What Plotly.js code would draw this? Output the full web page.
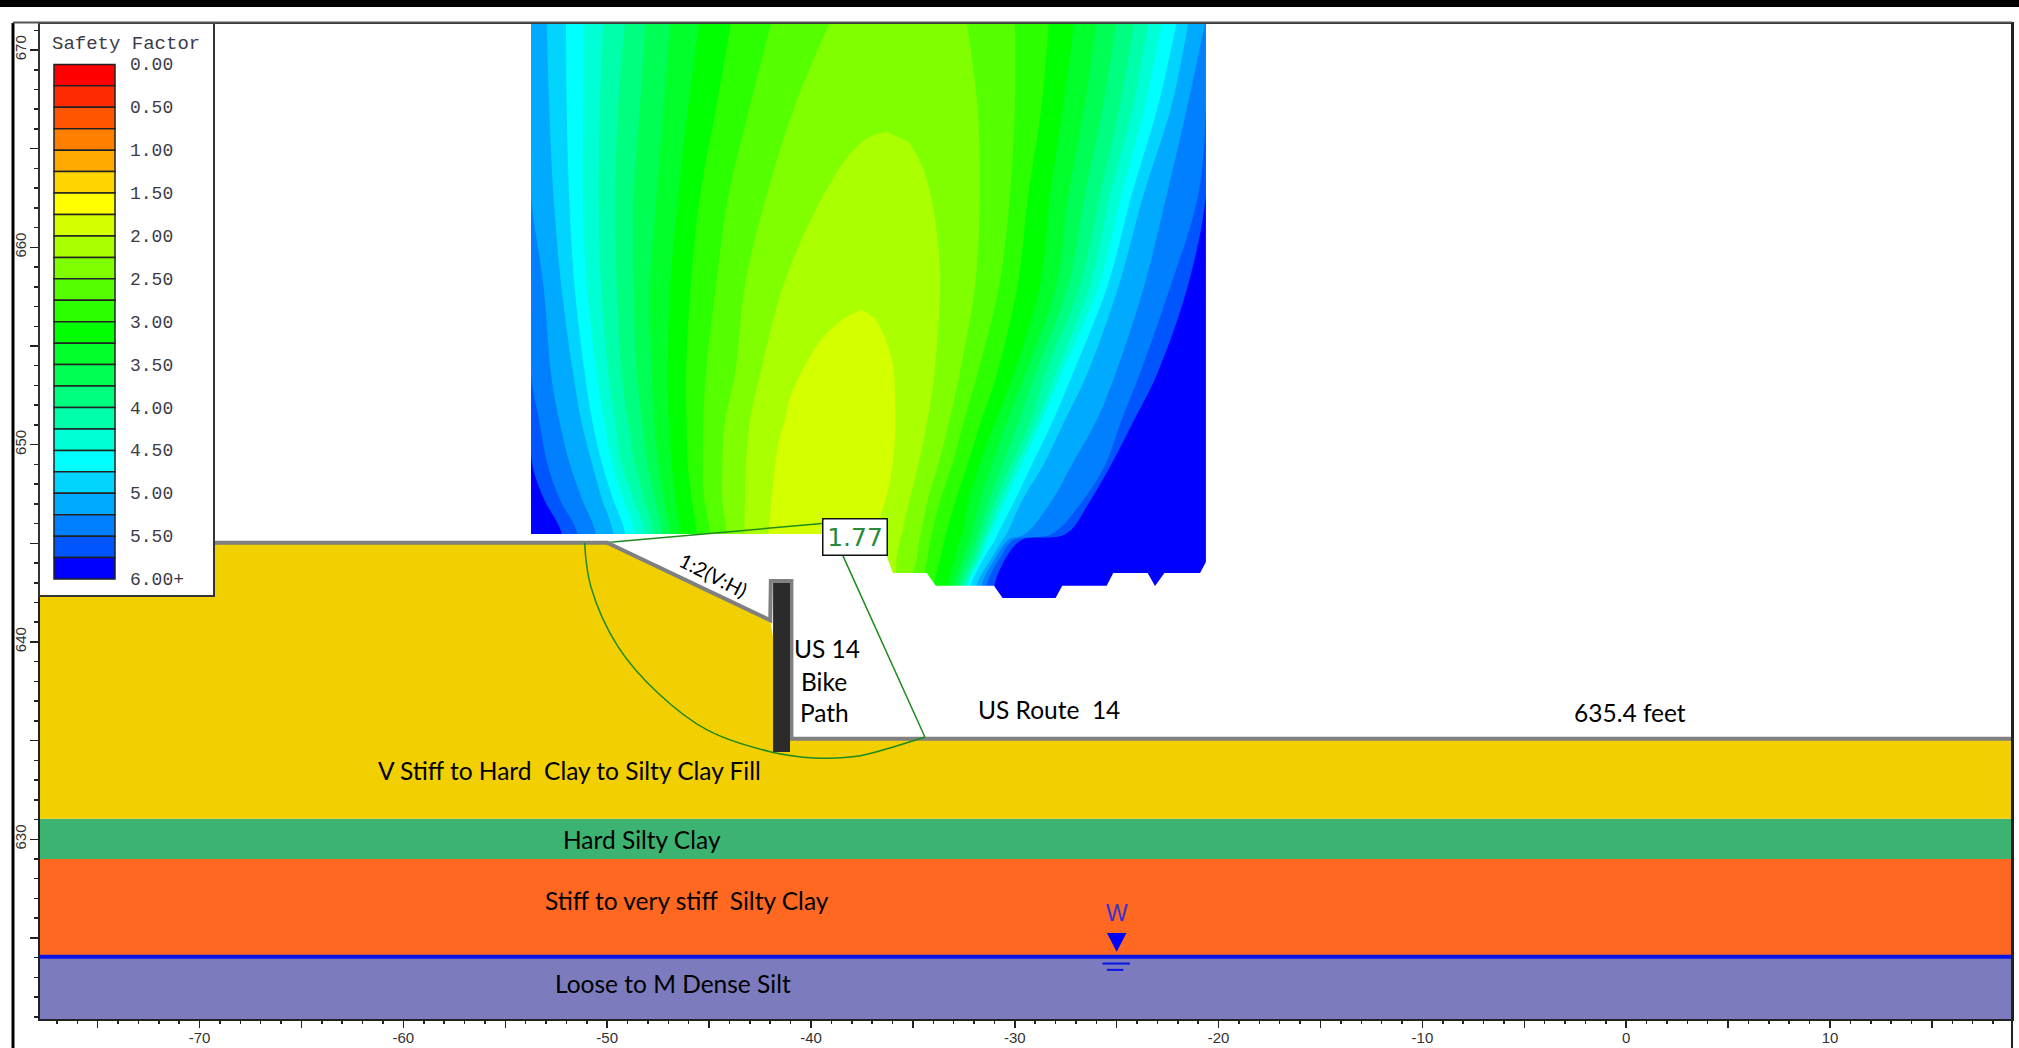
<!DOCTYPE html>
<html><head><meta charset="utf-8">
<script src="https://cdn.plot.ly/plotly-3.0.1.min.js"></script>
<style>html,body{margin:0;padding:0;background:#fff}#c{width:2019px;height:1048px}</style>
</head><body><div id="c"></div>
<script>
// ---------- axes ----------
const xTicks=[-75,-70,-65,-60,-55,-50,-45,-40,-35,-30,-25,-20,-15,-10,-5,0,5,10,15];
const xTickText=['','-70','','-60','','-50','','-40','','-30','','-20','','-10','','0','','10',''];
const yTicks=[625,630,635,640,645,650,655,660,665,670];
const yTickText=['','630','','640','','650','','660','','670'];

// ---------- contour boundaries, x in feet read at these elevations ----------
const rowsLeft=[671.6,667.22,662.65,658.09,653.53,651.25,648.97,647.20,645.47];
const rowsRight=[671.6,667.22,662.65,658.09,653.53,651.25,648.97,647.20,645.47,645.17,644.41,642.89];
const fieldBottom=642.1, fieldTop=671.6, fieldLeft=-53.74, fieldRight=-20.62;

const c0055=['#0055ff',
 [-53.74,-53.74,-53.74,-53.74,-53.74,-53.74,-53.67,-53.08,-52.23],
 [-20.62,-20.62,-20.62,-21.5,-23.04,-24.15,-25.28,-26.28,-27.50,-29.66,-30.35,-31.00]];
const c0080=['#0080ff',
 [-53.74,-53.74,-53.74,-53.74,-53.74,-53.34,-52.92,-52.31,-51.46],
 [-20.62,-20.62,-21.00,-22.34,-23.89,-24.76,-25.57,-26.64,-28.19,-30.07,-30.64,-31.38]];
const c00aa=['#00aaff',
 [-53.74,-53.74,-53.74,-53.13,-52.75,-52.36,-51.82,-51.22,-50.56],
 [-20.62,-21.52,-22.55,-23.64,-25.08,-25.98,-27.21,-28.16,-29.50,-30.32,-30.86,-31.63]];
const c00d4=['#00d4ff',
 [-52.97,-52.85,-52.64,-52.26,-51.66,-51.28,-50.73,-50.24,-49.70],
 [-21.45,-22.30,-23.69,-24.89,-26.47,-27.54,-28.60,-29.63,-30.40,-30.61,-31.05,-31.87]];
const c00ff=['#00ffff',
 [-52.02,-51.99,-51.87,-51.61,-51.09,-50.74,-50.24,-49.70,-49.12],
 [-22.02,-22.96,-24.27,-25.44,-27.18,-28.11,-29.17,-29.99,-30.84,-30.97,-31.43,-32.15]];
const cFFd5=['#00ffd5',
 [-51.12,-51.17,-51.20,-51.00,-50.51,-50.15,-49.74,-49.20,-48.63],
 [-22.74,-23.61,-24.76,-25.87,-27.73,-28.65,-29.66,-30.45,-31.20,-31.33,-31.59,-32.31]];
const cFFaa=['#00ffaa',
 [-50.19,-50.35,-50.43,-50.30,-49.94,-49.61,-49.29,-48.71,-48.14],
 [-23.42,-24.18,-25.33,-26.31,-28.03,-28.89,-29.91,-30.68,-31.36,-31.49,-31.74,-32.41]];
const cFF80=['#00ff80',
 [-49.12,-49.45,-49.61,-49.53,-49.29,-48.99,-48.63,-48.19,-47.73],
 [-24.13,-24.84,-25.82,-26.80,-28.52,-29.22,-30.19,-30.94,-31.54,-31.66,-31.92,-32.56]];
const cFF55=['#00ff55',
 [-48.11,-48.39,-48.71,-48.71,-48.55,-48.30,-48.03,-47.65,-47.32],
 [-25.00,-25.66,-26.56,-27.37,-29.01,-29.78,-30.61,-31.27,-31.79,-31.87,-32.18,-32.74]];
const cFF2b=['#00ff2b',
 [-46.88,-47.24,-47.57,-47.90,-47.81,-47.70,-47.49,-47.21,-46.91],
 [-25.98,-26.56,-27.37,-27.95,-29.50,-30.35,-31.13,-31.71,-32.12,-32.21,-32.48,-32.97]];
const cFF00=['#00ff00',
 [-45.44,-46.02,-46.51,-46.91,-47.03,-46.98,-46.83,-46.64,-46.42],
 [-27.05,-27.62,-28.27,-28.76,-30.07,-30.92,-31.71,-32.25,-32.57,-32.69,-32.90,-33.29]];
const c2bff=['#2bff00',
 [-43.89,-44.63,-45.44,-45.90,-46.13,-46.11,-46.05,-45.85,-45.61],
 [-28.32,-28.68,-29.34,-29.86,-30.89,-31.63,-32.33,-32.90,-33.38,-33.46,-33.62,-33.96]];
const c55ff=['#55ff00',
 [-41.89,-42.99,-44.05,-44.66,-45.16,-45.28,-45.31,-45.23,-44.95],
 [-29.99,-29.99,-30.24,-30.76,-31.84,-32.48,-33.08,-33.65,-34.08,-34.14,-34.26,-34.52]];
const c80ff=['#80ff00',
 [-38.98,-40.78,-42.17,-43.24,-43.73,-44.22,-44.35,-44.35,-44.13],
 [-32.39,-31.84,-31.71,-31.95,-32.72,-33.20,-33.77,-34.27,-34.62,-34.70,-34.78,-35.09]];
const contourBands=[c0055,c0080,c00aa,c00d4,c00ff,cFFd5,cFFaa,cFF80,cFF55,cFF2b,cFF00,c2bff,c55ff,c80ff];

// closed inner regions
const aaX=[-36.29,-37.10,-37.92,-39.39,-41.35,-42.50,-42.99,-43.19,-43.24,-43.27,-43.27,-36.11,-35.78,-35.63,-35.55,-35.16,-34.73,-34.29,-33.95,-33.67,-33.83,-34.13,-34.57,-35.22];
const aaY=[665.86,665.61,664.94,662.65,658.09,653.53,651.25,648.97,647.20,645.47,642.1,642.89,644.41,645.17,645.47,647.20,648.97,651.25,653.53,658.09,660.80,662.65,664.18,665.36];
const d4X=[-37.52,-38.3,-39.31,-40.29,-40.54,-41.11,-41.27,-41.52,-41.76,-41.93,-42.09,-42.09,-37.68,-37.35,-36.86,-36.37,-36.04,-35.88,-35.88,-35.96,-36.29,-36.86];
const d4Y=[656.83,656.45,655.56,654.04,653.53,652.18,651.25,650.49,648.97,647.20,645.47,642.1,642.89,644.41,645.59,647.11,648.63,650.49,652.18,653.89,655.22,656.42];

// lower outline of the field (white below it, down to the ground surface)
const outlineX=[-54.8,-38.58,-38.09,-36.29,-35.98,-34.32,-33.88,-31.02,-30.60,-28.00,-27.67,-25.49,-25.17,-23.48,-23.12,-22.66,-20.91,-20.62,-19.6,-19.6,-54.8];
const outlineY=[645.47,645.47,644.36,644.37,643.50,643.50,642.85,642.85,642.23,642.23,642.85,642.85,643.50,643.50,642.84,643.50,643.50,644.05,644.05,636.0,636.0];

// ---------- soil layers ----------
const xMin=-77.83, xMax=18.93, yMin=620.89, yMax=671.32;
const fillX=[xMin,-50,-42,-41,xMax,xMax,xMin];
const fillY=[645.03,645.03,641.1,635.1,635.1,631.04,631.04];
const hardClayY=[631.04,629.0];
const stiffClayY=[629.0,624.05];
const siltY=[624.05,yMin];
const waterY=624.05;

// ---------- surface, wall, slip surface ----------
const surfaceX=[xMin,-50,-42,-41.97,-40.96,-40.96,xMax];
const surfaceY=[645.03,645.03,641.1,643.09,643.09,635.1,635.1];
const wallX=[-41.86,-41.03,-41.03,-41.86];
const wallY=[642.99,642.99,634.42,634.42];
const slipArcX=[-51.11,-50.80,-49.47,-47.51,-45.10,-42.01,-39.83,-37.84,-36.12,-34.41];
const slipArcY=[645.03,642.8,639.76,637.41,635.54,634.44,634.12,634.19,634.63,635.18];
const slipTopX=[-51.11,-49.73,-39.46];
const slipTopY=[645.03,645.07,646.0];
const slipExitX=[-34.41,-38.43];
const slipExitY=[635.18,644.36];

// water table symbol
const waterTriX=[-25.48,-24.52,-25];
const waterTriY=[625.25,625.25,624.3];
const waterDash1X=[-25.7,-24.35], waterDash1Y=[623.7,623.7];
const waterDash2X=[-25.48,-24.67], waterDash2Y=[623.38,623.38];

// ---------- legend ----------
const legendTitle='Safety Factor';
const sfMid=[0.125,0.375,0.625,0.875,1.125,1.375,1.625,1.875,2.125,2.375,2.625,2.875,3.125,3.375,3.625,3.875,4.125,4.375,4.625,4.875,5.125,5.375,5.625,5.875];
const sfColors=['#ff0000','#ff2b00','#ff5500','#ff8000','#ffaa00','#ffd500','#ffff00','#d4ff00','#aaff00','#80ff00','#55ff00','#2bff00','#00ff00','#00ff2b','#00ff55','#00ff80','#00ffaa','#00ffd5','#00ffff','#00d4ff','#00aaff','#0080ff','#0055ff','#0000ff'];
const sfLabelVals=[0,0.5,1,1.5,2,2.5,3,3.5,4,4.5,5,5.5,6];
const sfLabels=['0.00','0.50','1.00','1.50','2.00','2.50','3.00','3.50','4.00','4.50','5.00','5.50','6.00+'];

// ---------- text ----------
const labelText=['V Stiff to Hard  Clay to Silty Clay Fill','Hard Silty Clay','Stiff to very stiff  Silty Clay','Loose to M Dense Silt','US 14','Bike','Path','US Route  14','635.4 feet'];
const labelX=[-51.83,-48.29,-46.08,-46.77,-39.2,-39.36,-39.36,-28.32,0.19];
const labelY=[633.51,629.99,626.92,622.67,639.65,638.02,636.45,636.58,636.40];
const factorOfSafety='1.77';

// ---------- build ----------
const T=[];
const poly=(x,y,c,shape)=>T.push({x,y,type:'scatter',mode:'lines',fill:'toself',fillcolor:c,line:{width:0,color:c,shape:shape||'linear'},hoverinfo:'skip',showlegend:false});
const line=(x,y,c,w,extra)=>T.push({x,y,type:'scatter',mode:'lines',line:Object.assign({color:c,width:w},extra||{}),hoverinfo:'skip',showlegend:false});

poly([fieldLeft,fieldRight,fieldRight,fieldLeft],[fieldTop,fieldTop,fieldBottom,fieldBottom],'#0000ff');
contourBands.forEach(b=>{
  const lx=b[1], rx=b[2];
  const x=lx.concat([lx[lx.length-1],rx[rx.length-1]],rx.slice().reverse());
  const y=rowsLeft.concat([fieldBottom,fieldBottom],rowsRight.slice().reverse());
  poly(x,y,b[0],'spline');
});
poly(aaX,aaY,'#aaff00','spline');
poly(d4X,d4Y,'#d4ff00','spline');
poly(outlineX,outlineY,'#ffffff');
poly([fieldLeft-1,fieldLeft,fieldLeft,fieldLeft-1],[fieldTop,fieldTop,fieldBottom,fieldBottom],'#ffffff');
poly([fieldRight,fieldRight+1,fieldRight+1,fieldRight],[fieldTop,fieldTop,fieldBottom,fieldBottom],'#ffffff');

poly([xMin,xMax,xMax,xMin],[siltY[0],siltY[0],siltY[1],siltY[1]],'#7b7bbd');
poly([xMin,xMax,xMax,xMin],[stiffClayY[0],stiffClayY[0],stiffClayY[1],stiffClayY[1]],'#ff6820');
poly([xMin,xMax,xMax,xMin],[hardClayY[0],hardClayY[0],hardClayY[1],hardClayY[1]],'#3cb371');
poly(fillX,fillY,'#f2cf00');

line(slipTopX,slipTopY,'#1f8a1f',1.5);
line(surfaceX,surfaceY,'#808080',4,{simplify:false});
poly(wallX,wallY,'#2b2b2b');
line(slipArcX,slipArcY,'#1f8a1f',1.5,{shape:'spline'});
line(slipExitX,slipExitY,'#1f8a1f',1.5);

line([xMin,xMax],[waterY,waterY],'#0a14e6',4);
poly(waterTriX,waterTriY,'#0000ff');
line(waterDash1X,waterDash1Y,'#0a14e6',2);
line(waterDash2X,waterDash2Y,'#0a14e6',2);

// legend panel on its own small axes
T.push({type:'bar',orientation:'h',xaxis:'x2',yaxis:'y2',y:[2.85],x:[173],base:[0],width:[6.71],marker:{color:'#ffffff',line:{width:0}},hoverinfo:'skip',showlegend:false});
T.push({type:'bar',orientation:'h',xaxis:'x2',yaxis:'y2',y:sfMid,x:sfMid.map(()=>61),base:sfMid.map(()=>14),width:0.25,marker:{color:sfColors,line:{color:'#222',width:1.5}},hoverinfo:'skip',showlegend:false});

const W=2019,H=1048,ML=40,MR=7,MT=24,MB=29;
const PW=W-ML-MR, PH=H-MT-MB;
const px=v=>(v-ML)/PW, py=v=>(H-MB-v)/PH;

const texts=labelText.map((t,i)=>({x:labelX[i],y:labelY[i],xref:'x',yref:'y',text:t,showarrow:false,xanchor:'center',yanchor:'middle',font:{family:'Lato, "Open Sans", sans-serif',size:24.5,color:'#000'}}));
texts.push({x:-44.78,y:643.37,xref:'x',yref:'y',text:'1:2(V:H)',textangle:27,showarrow:false,font:{family:'Lato, sans-serif',size:20,color:'#000'}});
texts.push({x:-25,y:626.26,xref:'x',yref:'y',text:'W',showarrow:false,font:{family:'Liberation Sans, sans-serif',size:23,color:'#3a30d0'}});
texts.push({x:-37.84,y:645.32,xref:'x',yref:'y',text:factorOfSafety,showarrow:false,width:63,height:35,bgcolor:'#fff',bordercolor:'#111',borderwidth:1.5,borderpad:0,font:{family:'DejaVu Sans, sans-serif',size:25,color:'#2a8a3a'}});
texts.push({x:86,y:-0.238,xref:'x2',yref:'y2',text:legendTitle,showarrow:false,font:{family:'Liberation Mono, monospace',size:19,color:'#3c3c48'}});
sfLabels.forEach((t,i)=>texts.push({x:87.5,y:sfLabelVals[i],xref:'x2',yref:'y2',yshift:-1,text:t,showarrow:false,xanchor:'left',yanchor:'middle',font:{family:'Liberation Mono, monospace',size:18,color:'#3c3c48'}}));

const axTick={family:'Liberation Sans, sans-serif',size:15,color:'#333'};
const layout={
  width:W,height:H,margin:{l:ML,r:MR,t:MT,b:MB,pad:0},
  paper_bgcolor:'#fff',plot_bgcolor:'rgba(0,0,0,0)',showlegend:false,barmode:'overlay',
  xaxis:{range:[xMin,xMax],tickmode:'array',tickvals:xTicks,ticktext:xTickText,ticks:'outside',ticklen:7,tickwidth:1.5,tickcolor:'#222',ticklabelstandoff:-3,
    minor:{dtick:1,ticks:'outside',ticklen:3,tickwidth:1.5,tickcolor:'#222'},
    showgrid:false,zeroline:false,showline:true,linecolor:'#222',linewidth:2,mirror:true,tickfont:axTick,fixedrange:true},
  yaxis:{range:[yMin,yMax],tickmode:'array',tickvals:yTicks,ticktext:yTickText,ticks:'outside',ticklen:8,tickwidth:1.5,tickcolor:'#222',tickangle:-90,ticklabelstandoff:-2,
    minor:{dtick:1,ticks:'outside',ticklen:4,tickwidth:1.5,tickcolor:'#222'},
    showgrid:false,zeroline:false,showline:true,linecolor:'#222',linewidth:2,mirror:true,tickfont:axTick,fixedrange:true},
  xaxis2:{domain:[0,px(213)],range:[0,173],anchor:'y2',showticklabels:false,ticks:'',showgrid:false,zeroline:false,showline:true,mirror:true,linecolor:'#333',linewidth:2,fixedrange:true},
  yaxis2:{domain:[py(595),1],range:[6.186,-0.471],anchor:'x2',showticklabels:false,ticks:'',showgrid:false,zeroline:false,showline:true,mirror:true,linecolor:'#333',linewidth:2,fixedrange:true},
  annotations:texts,
  shapes:[
    {type:'rect',xref:'paper',yref:'paper',x0:px(0),x1:px(W),y0:py(0),y1:py(7),fillcolor:'#000',line:{width:0},layer:'above'},
    {type:'line',xref:'paper',yref:'paper',x0:px(13),x1:px(13),y0:py(23),y1:py(H),line:{color:'#000',width:3},layer:'above'},
    {type:'line',xref:'paper',yref:'paper',x0:px(13),x1:px(2012),y0:py(22.5),y1:py(22.5),line:{color:'#555',width:2},layer:'above'},
    {type:'line',xref:'paper',yref:'paper',x0:px(2012),x1:px(2012),y0:py(23),y1:py(H),line:{color:'#222',width:2},layer:'above'}
  ]
};
Plotly.newPlot('c',T,layout,{staticPlot:true,displayModeBar:false});
</script></body></html>
